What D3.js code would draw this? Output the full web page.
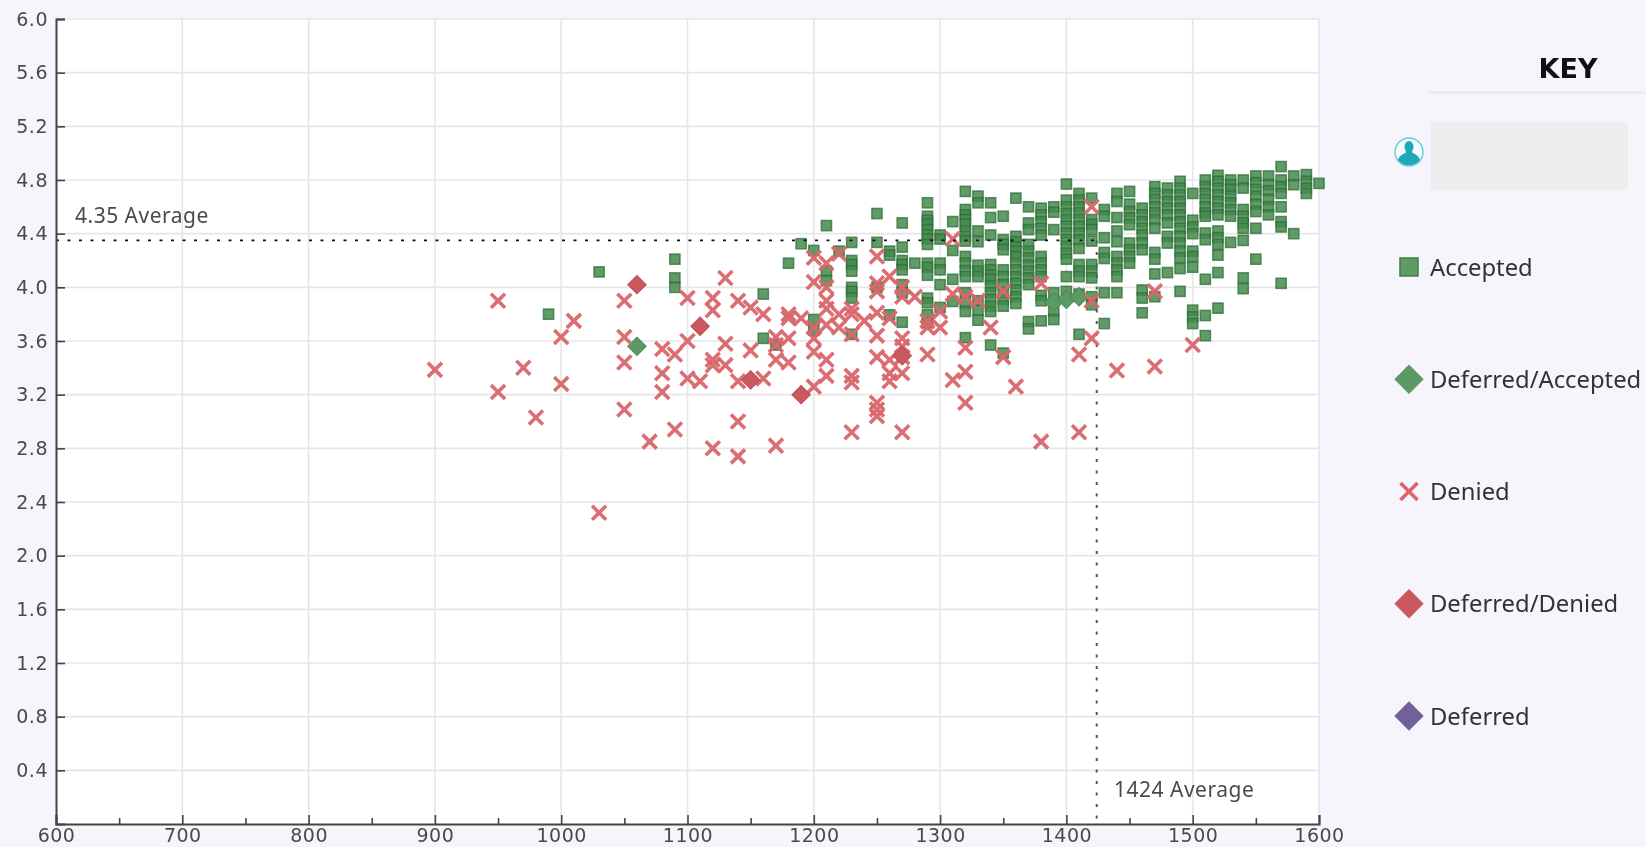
<!DOCTYPE html>
<html>
<head>
<meta charset="utf-8">
<script src="https://cdn.jsdelivr.net/npm/d3@7"></script>
<style>
  html, body { margin: 0; padding: 0; background: #f5f5fb; overflow: hidden; }
  text { font-family: "Noto Sans", sans-serif; }
  #chart { display: block; filter: blur(0.4px); }
</style>
</head>
<body>
<svg id="chart"></svg>
<script>
// scattergram, SAT on x and GPA on y. One row per SAT column
const satTicks = [600, 700, 800, 900, 1000, 1100, 1200, 1300, 1400, 1500, 1600];
const gpaTicks = [0.4, 0.8, 1.2, 1.6, 2.0, 2.4, 2.8, 3.2, 3.6, 4.0, 4.4, 4.8, 5.2, 5.6, 6.0];
const avgGpa = 4.35;
const avgSat = 1424;

const accepted = [
    [990, [3.8]], [1030, [4.115]], [1090, [4.21, 4.07, 4.0]], [1160, [3.95, 3.62]], [1170, [3.57]],
    [1180, [4.18]], [1190, [4.325]], [1200, [4.275, 3.76, 3.68]], [1210, [4.46, 4.12, 4.05]],
    [1220, [4.27]], [1230, [4.335, 4.2, 4.17, 4.12, 4.0, 3.97, 3.92, 3.65]],
    [1250, [4.55, 4.335, 4.0]], [1260, [4.27, 4.24, 3.795]],
    [1270, [4.48, 4.3, 4.2, 4.17, 4.13, 4.02, 3.96, 3.74]], [1280, [4.18]],
    [1290, [4.63, 4.53, 4.5, 4.47, 4.43, 4.39, 4.36, 4.32, 4.18, 4.15, 4.09, 3.92, 3.885, 3.795, 3.735]],
    [1300, [4.39, 4.36, 4.18, 4.13, 4.02, 3.85]], [1310, [4.49, 4.275, 4.06, 3.895]],
    [1320, [4.715, 4.58, 4.54, 4.505, 4.47, 4.42, 4.38, 4.345, 4.23, 4.18, 4.125, 4.08, 3.96, 3.88, 3.82, 3.625]],
    [1330, [4.68, 4.63, 4.42, 4.34, 4.165, 4.12, 4.08, 3.9, 3.83, 3.755]],
    [1340, [4.63, 4.52, 4.39, 4.17, 4.13, 4.09, 4.06, 4.01, 3.96, 3.91, 3.86, 3.82, 3.57]],
    [1350, [4.53, 4.355, 4.32, 4.28, 4.13, 4.08, 4.02, 3.96, 3.91, 3.86, 3.51]],
    [1360, [4.665, 4.38, 4.34, 4.3, 4.27, 4.23, 4.18, 4.13, 4.08, 4.03, 3.98, 3.93, 3.88]],
    [1370, [4.6, 4.48, 4.43, 4.32, 4.27, 4.22, 4.165, 4.12, 4.07, 4.02, 3.745, 3.69]],
    [1380, [4.59, 4.54, 4.49, 4.44, 4.39, 4.23, 4.18, 4.13, 4.08, 3.94, 3.9, 3.75]],
    [1390, [4.6, 4.56, 4.43, 3.96, 3.82, 3.76]],
    [1400, [4.77, 4.65, 4.6, 4.55, 4.505, 4.455, 4.405, 4.355, 4.305, 4.255, 4.21, 4.08, 3.97]],
    [1410, [4.7, 4.65, 4.6, 4.555, 4.505, 4.455, 4.405, 4.355, 4.29, 4.17, 4.12, 4.08, 3.95, 3.65]],
    [1420, [4.665, 4.505, 4.47, 4.43, 4.345, 4.17, 4.12, 4.07, 3.93, 3.87]],
    [1430, [4.58, 4.53, 4.37, 4.26, 4.215, 3.96, 3.73]],
    [1440, [4.7, 4.64, 4.52, 4.42, 4.34, 4.23, 4.18, 4.13, 4.08, 3.96]],
    [1450, [4.715, 4.62, 4.565, 4.517, 4.467, 4.33, 4.28, 4.23, 4.18]],
    [1460, [4.59, 4.54, 4.49, 4.44, 4.39, 4.33, 4.28, 3.98, 3.92, 3.81]],
    [1470, [4.75, 4.7, 4.655, 4.6, 4.555, 4.505, 4.44, 4.26, 4.21, 4.1, 3.93]],
    [1480, [4.74, 4.69, 4.64, 4.59, 4.54, 4.48, 4.38, 4.33, 4.11]],
    [1490, [4.79, 4.74, 4.69, 4.64, 4.59, 4.54, 4.49, 4.44, 4.38, 4.33, 4.27, 4.22, 4.14, 3.97]],
    [1500, [4.7, 4.5, 4.45, 4.4, 4.27, 4.23, 4.15, 3.83, 3.78, 3.73]],
    [1510, [4.8, 4.75, 4.7, 4.655, 4.6, 4.555, 4.53, 4.405, 4.355, 4.06, 3.79, 3.64]],
    [1520, [4.835, 4.79, 4.74, 4.69, 4.64, 4.59, 4.54, 4.42, 4.37, 4.32, 4.24, 4.11, 3.845]],
    [1530, [4.8, 4.765, 4.73, 4.68, 4.63, 4.58, 4.53, 4.335]],
    [1540, [4.8, 4.74, 4.58, 4.53, 4.48, 4.44, 4.35, 4.07, 3.99]],
    [1550, [4.83, 4.78, 4.73, 4.68, 4.62, 4.565, 4.44, 4.21]],
    [1560, [4.83, 4.765, 4.72, 4.655, 4.6, 4.54]],
    [1570, [4.9, 4.8, 4.75, 4.7, 4.6, 4.49, 4.45, 4.03]],
    [1580, [4.83, 4.765, 4.4]],
    [1590, [4.84, 4.79, 4.74, 4.7]],
    [1600, [4.775]],
];

const denied = [
    [900, [3.385]], [950, [3.9, 3.22]], [970, [3.4]], [980, [3.03]], [1000, [3.63, 3.28]], [1010, [3.75]],
    [1030, [2.32]], [1050, [3.9, 3.63, 3.44, 3.09]], [1070, [2.85]], [1080, [3.54, 3.36, 3.22]],
    [1090, [3.5, 2.94]], [1100, [3.92, 3.6, 3.32]], [1110, [3.3]], [1120, [3.92, 3.83, 3.46, 3.42, 2.8]],
    [1130, [4.07, 3.58, 3.42]], [1140, [3.9, 3.3, 3.0, 2.74]], [1150, [3.85, 3.53]], [1160, [3.8, 3.32]],
    [1170, [3.63, 3.57, 3.46, 2.82]], [1180, [3.8, 3.77, 3.62, 3.44]], [1190, [3.77]],
    [1200, [4.22, 4.04, 3.7, 3.62, 3.52, 3.26]], [1210, [4.18, 4.0, 3.9, 3.84, 3.72, 3.46, 3.34]],
    [1220, [4.25, 3.8, 3.7]], [1230, [3.84, 3.8, 3.65, 3.34, 3.29, 2.92]], [1240, [3.75]],
    [1250, [4.23, 4.03, 3.97, 3.81, 3.64, 3.48, 3.14, 3.09, 3.04]], [1260, [4.08, 3.77, 3.46, 3.36, 3.3]],
    [1270, [4.0, 3.93, 3.62, 3.56, 3.48, 3.36, 2.92]], [1280, [3.93]], [1290, [3.75, 3.7, 3.5]],
    [1300, [3.82, 3.7]], [1310, [4.36, 3.95, 3.31]], [1320, [3.93, 3.55, 3.37, 3.14]], [1330, [3.9]],
    [1340, [3.7]], [1350, [3.97, 3.48]], [1360, [3.26]], [1380, [4.03, 2.85]], [1410, [3.5, 2.92]],
    [1420, [4.6, 3.9, 3.62]], [1440, [3.38]], [1470, [3.97, 3.41]], [1500, [3.57]],
];

const deferredDenied = [[1060, [4.02]], [1110, [3.71]], [1150, [3.31]], [1190, [3.2]], [1270, [3.49]]];
const deferredAccepted = [[1060, [3.56]], [1390, [3.89]], [1400, [3.91]], [1410, [3.93]]];

const W = 1646, H = 847;
const GREEN = '#448a4d', GREEN_LINE = '#2f6f38', RED = '#d9666c', RED_DIAMOND = '#cb575f', PURPLE = '#72609a';

const svg = d3.select('#chart').attr('width', W).attr('height', H);

const x = d3.scaleLinear().domain([600, 1600]).range([56, 1319]);
const y = d3.scaleLinear().domain([0, 6]).range([824, 19]);

const flatten = cols => cols.flatMap(([sat, gpas]) => gpas.map(gpa => ({ sat, gpa })));

// ── Plot area and grid ────────────────────────────────────────────────────
svg.append('rect')
    .attr('x', x(600)).attr('y', y(6))
    .attr('width', x(1600) - x(600)).attr('height', y(0) - y(6))
    .attr('fill', '#fff');

svg.append('g').selectAll('line')
    .data(satTicks.slice(1))
    .join('line')
    .attr('x1', d => x(d)).attr('x2', d => x(d))
    .attr('y1', y(0)).attr('y2', y(6))
    .attr('stroke', '#e6e6e8').attr('stroke-width', 1.6);

svg.append('g').selectAll('line')
    .data(gpaTicks)
    .join('line')
    .attr('x1', x(600)).attr('x2', x(1600))
    .attr('y1', d => y(d)).attr('y2', d => y(d))
    .attr('stroke', '#e6e6e8').attr('stroke-width', 1.6);

// ── Averages ──────────────────────────────────────────────────────────────
svg.append('line')
    .attr('x1', x(avgSat)).attr('x2', x(avgSat))
    .attr('y1', y(avgGpa)).attr('y2', y(0))
    .attr('stroke', '#555').attr('stroke-width', 2).attr('stroke-dasharray', '3 8.5');

// ── Points ────────────────────────────────────────────────────────────────
const sq = 10.2;
svg.append('g').selectAll('rect')
    .data(flatten(accepted))
    .join('rect')
    .attr('x', d => x(d.sat) - sq / 2).attr('y', d => y(d.gpa) - sq / 2)
    .attr('width', sq).attr('height', sq)
    .attr('fill', GREEN).attr('fill-opacity', 0.85)
    .attr('stroke', GREEN_LINE).attr('stroke-opacity', 0.75).attr('stroke-width', 1.5);

const diamond = d3.symbol().type(d3.symbolSquare).size(170);

svg.append('g').selectAll('path')
    .data(flatten(deferredAccepted))
    .join('path')
    .attr('d', diamond)
    .attr('transform', d => `translate(${x(d.sat)},${y(d.gpa)}) rotate(45)`)
    .attr('fill', '#5b9a63').attr('stroke', '#4c8a55').attr('stroke-width', 1);

const cross = d3.symbol().type(d3.symbolTimes).size(130);

svg.append('g').selectAll('path')
    .data(flatten(denied))
    .join('path')
    .attr('d', cross)
    .attr('transform', d => `translate(${x(d.sat)},${y(d.gpa)})`)
    .attr('fill', 'none').attr('stroke', RED).attr('stroke-width', 3.6).attr('stroke-opacity', 0.95);

svg.append('g').selectAll('path')
    .data(flatten(deferredDenied))
    .join('path')
    .attr('d', diamond)
    .attr('transform', d => `translate(${x(d.sat)},${y(d.gpa)}) rotate(45)`)
    .attr('fill', RED_DIAMOND).attr('stroke', '#b94f57').attr('stroke-width', 1);

svg.append('line')
    .attr('x1', x(600)).attr('x2', x(avgSat))
    .attr('y1', y(avgGpa)).attr('y2', y(avgGpa))
    .attr('stroke', '#111').attr('stroke-width', 1.6).attr('stroke-dasharray', '3 8.5');

// ── Axes ──────────────────────────────────────────────────────────────────
const xAxis = svg.append('g').attr('transform', `translate(0,${y(0)})`)
    .call(d3.axisBottom(x).tickValues(satTicks).tickFormat(d3.format('d')).tickSize(-9).tickPadding(14));
const xMinor = svg.append('g').attr('transform', `translate(0,${y(0)})`)
    .call(d3.axisBottom(x).tickValues(satTicks.slice(0, -1).map(d => d + 50)).tickFormat('').tickSize(-6));
const yAxis = svg.append('g').attr('transform', `translate(${x(600)},0)`)
    .call(d3.axisLeft(y).tickValues(gpaTicks).tickFormat(d3.format('.1f')).tickSize(-9).tickPadding(8));

[xAxis, xMinor, yAxis].forEach(g => {
    g.select('.domain').attr('stroke', '#444').attr('stroke-width', 2);
    g.selectAll('line').attr('stroke', '#444').attr('stroke-width', 1.6);
    g.selectAll('text').attr('fill', '#4a4a4a').attr('font-size', 19)
        .attr('letter-spacing', 0.5).style('font-family', '"DejaVu Sans", sans-serif');
});
xMinor.select('.domain').remove();
xAxis.selectAll('text').attr('dy', '0.2em');

// ── Average labels ────────────────────────────────────────────────────────
svg.append('text').attr('x', 75).attr('y', 223)
    .attr('fill', '#4a4a4a').attr('font-size', 21).attr('letter-spacing', 0.5)
    .text(`${avgGpa} Average`);
svg.append('text').attr('x', 1114).attr('y', 797)
    .attr('fill', '#4a4a4a').attr('font-size', 21).attr('letter-spacing', 0.5)
    .text(`${avgSat} Average`);

// ── Key ───────────────────────────────────────────────────────────────────
const legendRows = ['Accepted', 'Deferred/Accepted', 'Denied', 'Deferred/Denied', 'Deferred'];
const legendY = d3.scalePoint().domain(legendRows).range([267, 716]);
const legendX = 1409;

svg.append('text').attr('x', 1568).attr('y', 78)
    .attr('text-anchor', 'middle').attr('font-size', 27).attr('font-weight', 700).attr('fill', '#111')
    .style('font-family', '"DejaVu Sans", sans-serif')
    .text('KEY');
svg.append('line').attr('x1', 1428).attr('x2', W).attr('y1', 92.5).attr('y2', 92.5)
    .attr('stroke', '#e8e8f2').attr('stroke-width', 2.5);

// student marker and the greyed out name
const me = svg.append('g').attr('transform', `translate(${legendX},152)`);
me.append('circle').attr('r', 14).attr('fill', '#f5fbfc').attr('stroke', '#6fd0d8').attr('stroke-width', 1.5);
me.append('ellipse').attr('cy', -5).attr('rx', 4.5).attr('ry', 6).attr('fill', '#1fa9b8');
me.append('path').attr('d', 'M-11,8 C-9,2 -4,2 -3,0 L3,0 C4,2 9,2 11,8 A14,14 0 0 1 -11,8 Z').attr('fill', '#1fa9b8');
svg.append('rect').attr('x', 1431).attr('y', 122).attr('width', 197).attr('height', 68).attr('fill', '#eeeeee');

const legendColor = { 'Deferred/Accepted': '#5b9a63', 'Deferred/Denied': RED_DIAMOND, 'Deferred': PURPLE };
const key = svg.append('g').selectAll('g')
    .data(legendRows)
    .join('g')
    .attr('transform', d => `translate(${legendX},${legendY(d)})`);

key.filter(d => d === 'Accepted').append('rect')
    .attr('x', -9).attr('y', -9).attr('width', 18).attr('height', 18)
    .attr('fill', '#5f9b66').attr('stroke', '#3f7f47').attr('stroke-width', 1.5);
key.filter(d => d === 'Denied').append('path')
    .attr('d', d3.symbol().type(d3.symbolTimes).size(190))
    .attr('fill', 'none').attr('stroke', RED).attr('stroke-width', 3.6);
key.filter(d => d in legendColor).append('path')
    .attr('d', d3.symbol().type(d3.symbolSquare).size(430))
    .attr('transform', 'rotate(45)')
    .attr('fill', d => legendColor[d]);
key.append('text')
    .attr('x', 21).attr('dy', '0.36em')
    .attr('fill', '#333').attr('font-size', 23.8)
    .text(d => d);
</script>
</body>
</html>
